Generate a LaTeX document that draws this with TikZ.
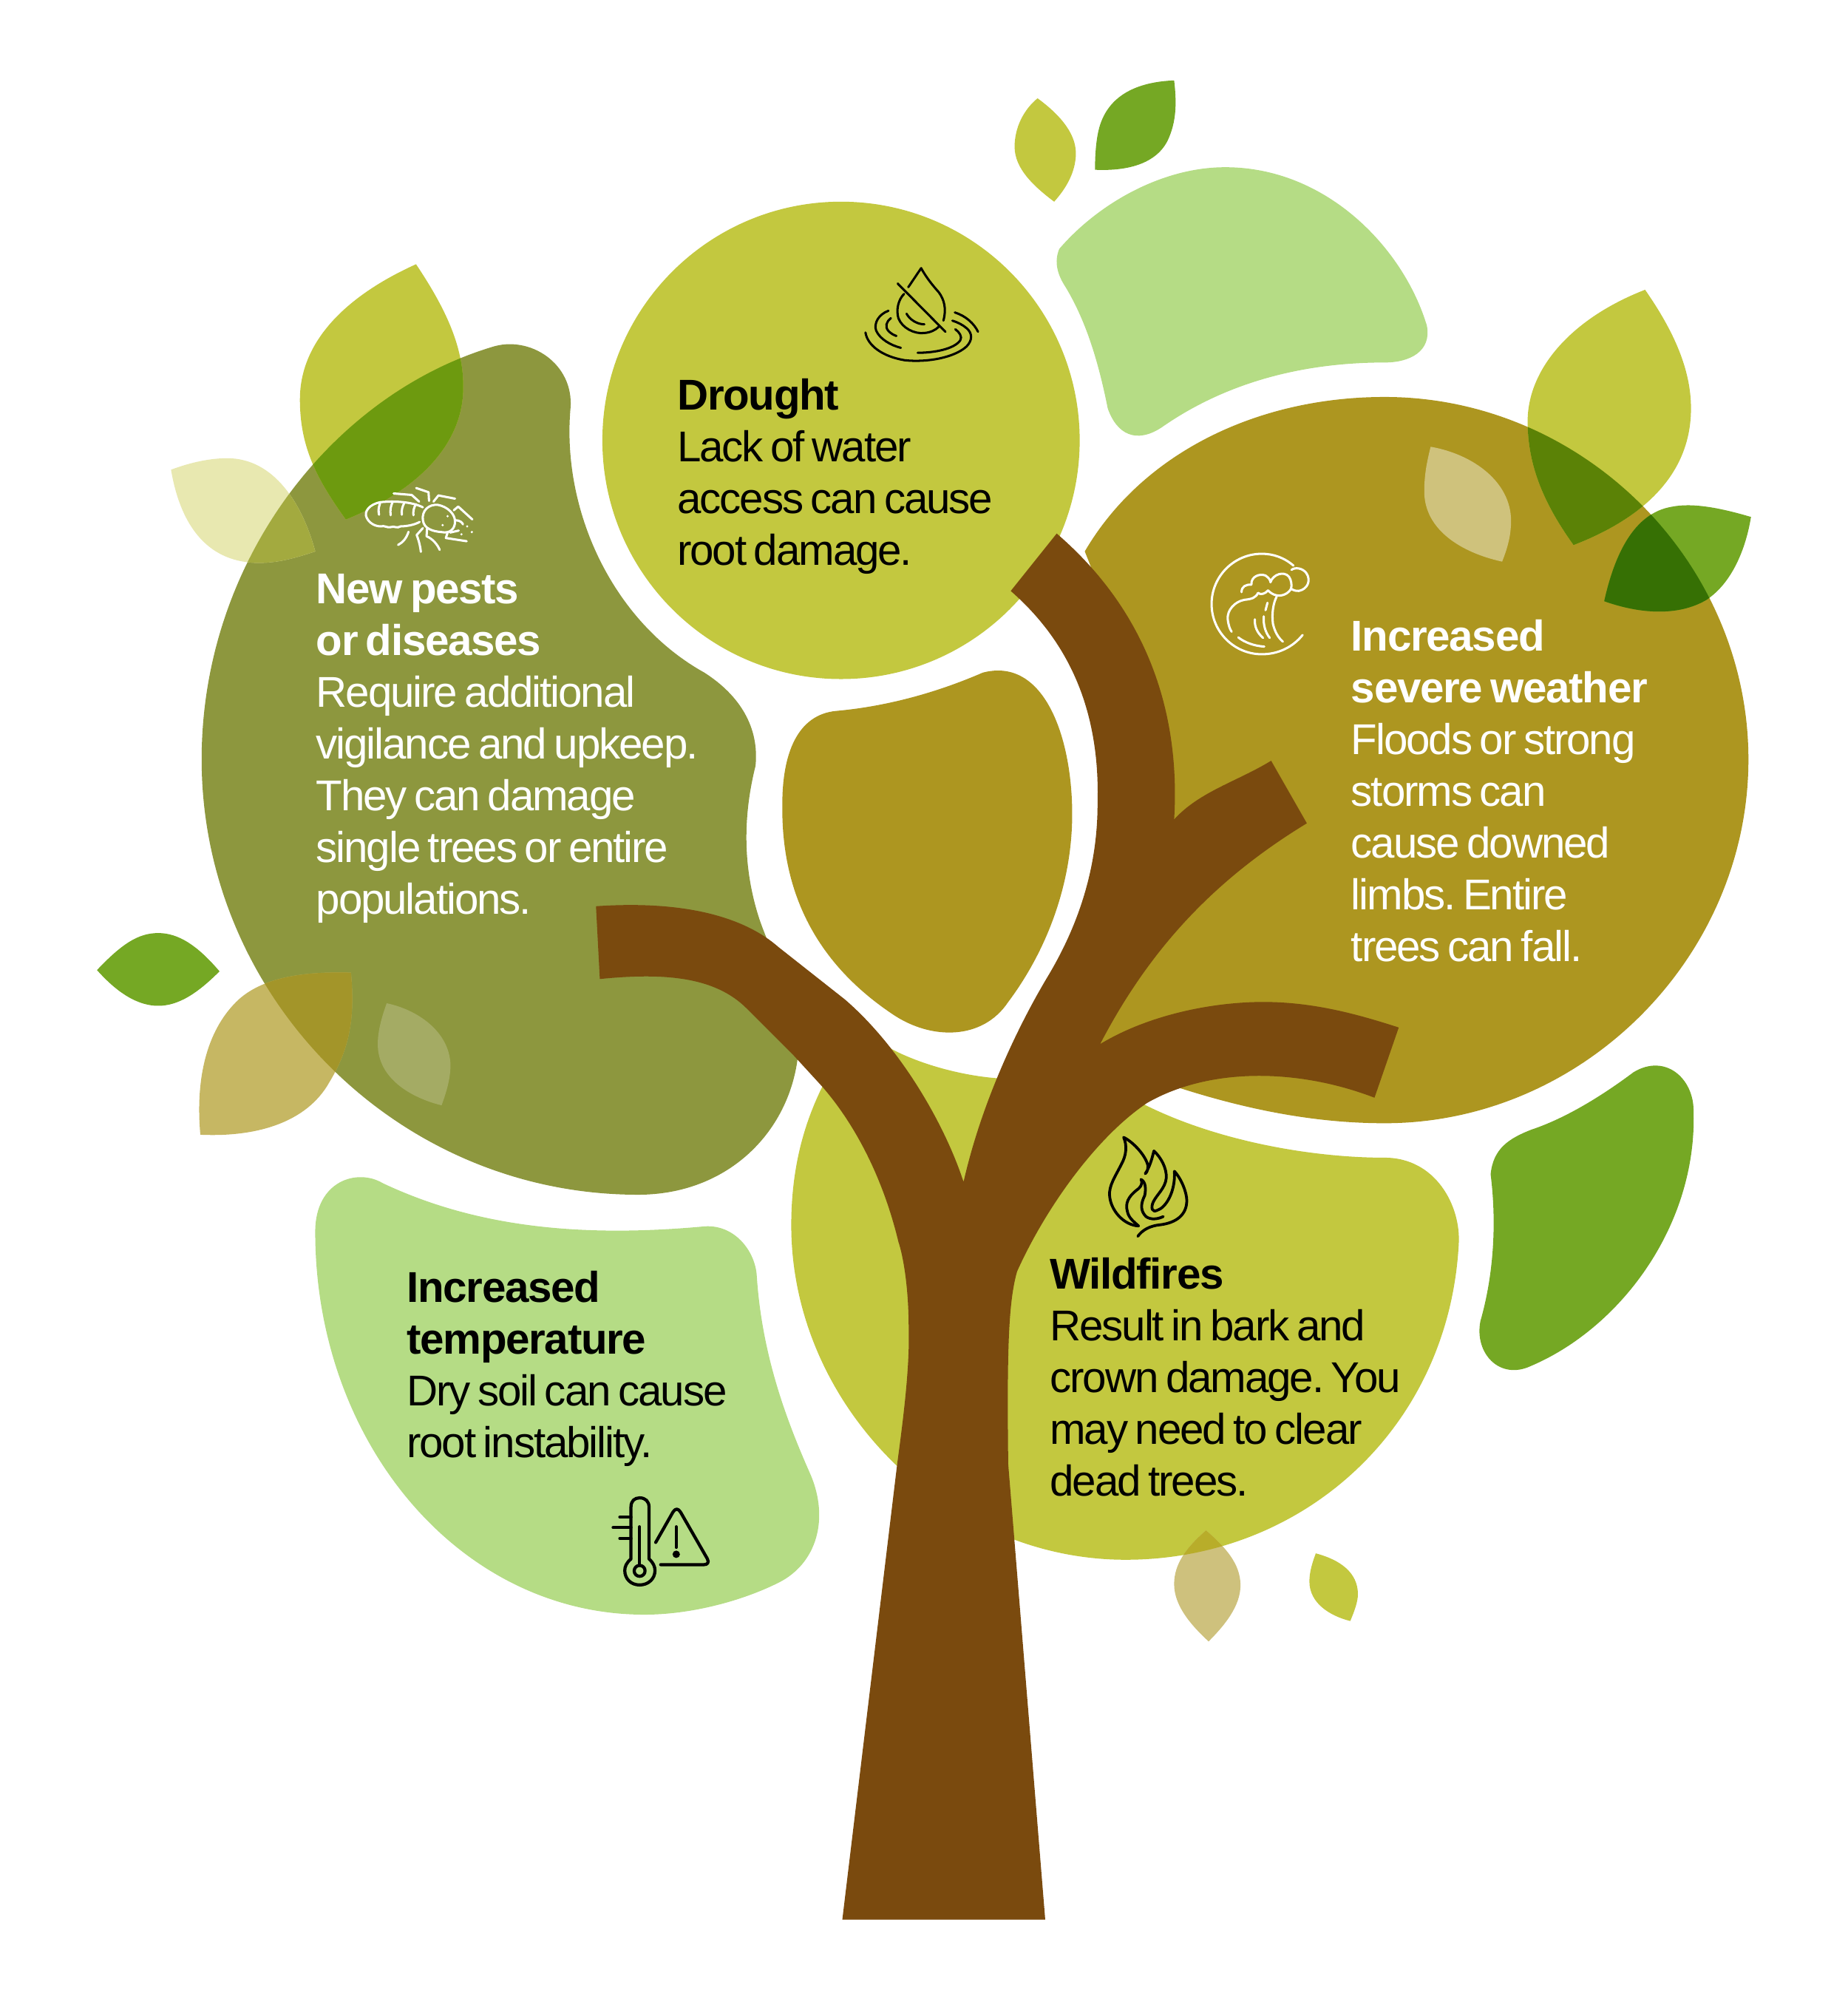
\documentclass[tikz,border=0pt]{standalone}
\usepackage{fontspec}
\setmainfont{Liberation Sans}[LetterSpace=-3.6,WordSpace=0.68,BoldFeatures={LetterSpace=-2.2}]
\usepackage{tikz}
\definecolor{limeleaf}{HTML}{C3C83F}
\definecolor{paleblob}{HTML}{B5DC85}
\definecolor{greenleaf}{HTML}{75A824}
\definecolor{ochreblob}{HTML}{AD9620}
\definecolor{pestblob}{HTML}{8D973E}
\definecolor{barkbrown}{HTML}{7A4A0E}
\def\blobPests{(385,272) .. controls (415,262) and (450,285) .. (447,320) .. controls (440,400) and (480,487) .. (552,527) .. controls (580,545) and (595,570) .. (592,600) .. controls (582,640) and (582,680) .. (595,720) .. controls (607,755) and (625,780) .. (626,815) .. controls (625,880) and (575,936) .. (500,936) .. controls (310,936) and (158,780) .. (158,595) .. controls (158,440) and (260,310) .. (385,272) -- cycle}
\def\blobOchre{(850,432) .. controls (895,355) and (985,311) .. (1085,311) .. controls (1240,311) and (1370,440) .. (1370,595) .. controls (1370,750) and (1240,880) .. (1085,880) .. controls (1010,880) and (935,860) .. (850,825) -- (860,730) -- (890,640) -- (885,520) -- cycle}
\def\blobLime{(620,960) .. controls (620,915) and (630,880) .. (645,850) -- (680,810) .. controls (705,830) and (750,843) .. (785,845) -- (870,850) .. controls (930,890) and (1020,907) .. (1085,907) .. controls (1125,907) and (1145,945) .. (1143,975) .. controls (1135,1120) and (1020,1222) .. (882,1222) .. controls (740,1222) and (620,1100) .. (620,960) -- cycle}
\def\leafTopLeft{(326,207) .. controls (275,230) and (235,265) .. (235,313) .. controls (235,350) and (248,375) .. (271,407) .. controls (325,385) and (363,350) .. (363,303) .. controls (363,270) and (348,240) .. (326,207) -- cycle}
\def\leafPale{(134,368) .. controls (150,362) and (165,359) .. (178,359) .. controls (215,359) and (237,395) .. (247,432) .. controls (232,437) and (218,441) .. (203,441) .. controls (165,441) and (142,415) .. (134,368) -- cycle}
\def\leafTan{(275,762) .. controls (240,761) and (205,765) .. (185,785) .. controls (162,808) and (153,845) .. (157,889) .. controls (200,891) and (240,880) .. (258,848) .. controls (275,820) and (278,795) .. (275,762) -- cycle}
\def\leafRightLime{(1289,227) .. controls (1230,250) and (1197,290) .. (1197,330) .. controls (1197,365) and (1210,395) .. (1233,427) .. controls (1290,405) and (1325,370) .. (1325,320) .. controls (1325,290) and (1312,260) .. (1289,227) -- cycle}
\def\leafRightGreen{(1372,405) .. controls (1345,397) and (1325,394) .. (1310,397) .. controls (1280,402) and (1265,435) .. (1257,471) .. controls (1285,481) and (1315,483) .. (1337,470) .. controls (1357,457) and (1368,430) .. (1372,405) -- cycle}
\def\leafLowTan{(945,1199) .. controls (930,1212) and (920,1225) .. (920,1241) .. controls (920,1258) and (933,1273) .. (947,1286) .. controls (960,1273) and (972,1258) .. (972,1242) .. controls (972,1225) and (960,1212) .. (945,1199) -- cycle}
\tikzset{
	blurb/.style={anchor=base west,align=left,inner sep=0pt,font=\fontsize{9.6}{11.53}\selectfont\frenchspacing},
	iconline/.style={line cap=round,line join=round,line width=#1},
	iconzoom/.style={x=0.0019307cm,y=-0.0019307cm}
}

\begin{document}
\begin{tikzpicture}[x=0.01cm,y=-0.01cm]
	\useasboundingbox (0,0) rectangle (1448,1568.5);
	%%%%% BLOBS %%%%%
	\fill[paleblob] (830,195) .. controls (860,160) and (910,131) .. (960,131) .. controls (1040,131) and (1100,195) .. (1118,255) .. controls (1122,275) and (1105,284) .. (1085,284) .. controls (1020,284) and (960,300) .. (910,335) .. controls (890,348) and (875,340) .. (868,320) .. controls (860,280) and (850,250) .. (835,225) .. controls (825,210) and (828,200) .. (830,195) -- cycle;
	\fill[paleblob] (247,965) .. controls (247,925) and (280,915) .. (300,927) .. controls (370,960) and (450,970) .. (550,961) .. controls (575,958) and (592,980) .. (593,1000) .. controls (597,1060) and (615,1110) .. (635,1155) .. controls (650,1190) and (640,1225) .. (610,1240) .. controls (580,1255) and (540,1265) .. (505,1265) .. controls (360,1265) and (247,1130) .. (247,965) -- cycle;
	\fill[greenleaf] (1168,920) .. controls (1170,900) and (1182,892) .. (1200,885) .. controls (1230,875) and (1260,855) .. (1280,840) .. controls (1305,825) and (1327,845) .. (1327,870) .. controls (1330,960) and (1270,1040) .. (1200,1070) .. controls (1175,1082) and (1155,1060) .. (1160,1035) .. controls (1170,1000) and (1173,960) .. (1168,920) -- cycle;
	\fill[limeleaf] (659,345) circle (187);
	\fill[limeleaf] \blobLime;
	\fill[ochreblob] \blobOchre;
	\fill[ochreblob] (655,557) .. controls (700,553) and (740,540) .. (770,527) .. controls (815,515) and (838,570) .. (840,630) .. controls (842,690) and (820,745) .. (790,785) .. controls (770,815) and (730,815) .. (700,795) .. controls (640,755) and (612,700) .. (613,630) .. controls (613,590) and (625,560) .. (655,557) -- cycle;
	\fill[pestblob] \blobPests;

	%%%%% LEAVES %%%%%
	\fill[limeleaf] \leafTopLeft;
	\begin{scope}
		\clip \blobPests;
		\fill[color={rgb,255:red,109;green,154;blue,15}] \leafTopLeft;
	\end{scope}
	\fill[color={rgb,255:red,232;green,232;blue,176}] \leafPale;
	\begin{scope}
		\clip \blobPests;
		\fill[color={rgb,255:red,163;green,170;blue,63}] \leafPale;
	\end{scope}
	\fill[color={rgb,255:red,198;green,183;blue,99}] \leafTan;
	\begin{scope}
		\clip \blobPests;
		\fill[color={rgb,255:red,163;green,149;blue,41}] \leafTan;
	\end{scope}
	\fill[color={rgb,255:red,164;green,171;blue,100}] (303,786) .. controls (327,791) and (352,808) .. (353,834) .. controls (353,845) and (350,855) .. (346,866) .. controls (322,860) and (296,845) .. (296,818) .. controls (296,808) and (299,797) .. (303,786) -- cycle;
	\fill[color={rgb,255:red,207;green,194;blue,124}] (1121,350) .. controls (1155,356) and (1184,378) .. (1184,408) .. controls (1184,420) and (1181,430) .. (1177,440) .. controls (1145,433) and (1116,415) .. (1116,385) .. controls (1116,372) and (1118,362) .. (1121,350) -- cycle;
	\fill[limeleaf] \leafRightLime;
	\fill[greenleaf] \leafRightGreen;
	\begin{scope}
		\clip \blobOchre;
		\fill[color={rgb,255:red,91;green,130;blue,6}] \leafRightLime;
		\fill[color={rgb,255:red,54;green,112;blue,4}] \leafRightGreen;
	\end{scope}
	\fill[greenleaf] (76,760) .. controls (95,740) and (108,731) .. (124,731) .. controls (140,731) and (155,741) .. (172,761) .. controls (155,778) and (140,788) .. (124,788) .. controls (108,788) and (92,778) .. (76,760) -- cycle;
	\fill[color={rgb,255:red,206;green,193;blue,125}] \leafLowTan;
	\begin{scope}
		\clip \blobLime;
		\fill[color={rgb,255:red,184;green,173;blue,42}] \leafLowTan;
	\end{scope}
	\fill[limeleaf] (1031,1217) .. controls (1050,1222) and (1064,1232) .. (1064,1249) .. controls (1064,1255) and (1061,1263) .. (1058,1270) .. controls (1042,1266) and (1026,1256) .. (1026,1239) .. controls (1026,1232) and (1028,1225) .. (1031,1217) -- cycle;
	\fill[limeleaf] (813,77) .. controls (802,86) and (795,100) .. (795,115) .. controls (795,132) and (810,146) .. (826,158) .. controls (835,148) and (843,135) .. (843,120) .. controls (843,103) and (828,88) .. (813,77) -- cycle;
	\fill[greenleaf] (920,63) .. controls (895,64) and (872,72) .. (863,95) .. controls (859,105) and (858,120) .. (858,133) .. controls (880,134) and (905,130) .. (915,110) .. controls (922,95) and (922,80) .. (920,63) -- cycle;

	%%%%% TREE %%%%%
	\fill[barkbrown] (660,1504) -- (703,1147) .. controls (708,1110) and (713,1070) .. (712,1040) .. controls (712,1010) and (708,985) .. (704,973) .. controls (690,915) and (665,875) .. (644,851) -- (622,827) -- (585,790) .. controls (560,765) and (520,762) .. (470,767) -- (467,710) .. controls (540,705) and (585,720) .. (610,742) -- (662,783) .. controls (705,820) and (740,880) .. (755,926) .. controls (770,860) and (800,800) .. (821,765) .. controls (845,725) and (860,680) .. (860,630) .. controls (862,560) and (840,505) .. (792,463) -- (828,418) .. controls (900,480) and (925,560) .. (920,642) .. controls (940,620) and (970,612) .. (996,596) -- (1024,645) .. controls (950,690) and (900,745) .. (862,818) .. controls (900,795) and (950,785) .. (990,785) .. controls (1030,785) and (1065,795) .. (1096,805) -- (1077,860) .. controls (1020,838) and (950,835) .. (899,864) .. controls (860,890) and (820,945) .. (797,996) .. controls (790,1020) and (789,1060) .. (790,1147) -- (819,1504) -- cycle;

	%%%%% TEXTS %%%%%
	\node[blurb] (droughtText) at (530,443) {\textbf{Drought}\\Lack of water\\access can cause\\root damage.};
	\node[blurb,text=white] (pestsText) at (247,716) {\textbf{New pests}\\\textbf{or diseases}\\Require additional\\vigilance and upkeep.\\They can damage\\single trees or entire\\populations.};
	\node[blurb,text=white] (weatherText) at (1058,753) {\textbf{Increased}\\\textbf{severe weather}\\Floods or strong\\storms can\\cause downed\\limbs. Entire\\trees can fall.};
	\node[blurb] (fireText) at (822,1172) {\textbf{Wildfires}\\Result in bark and\\crown damage. You\\may need to clear\\dead trees.};
	\node[blurb] (heatText) at (318,1142) {\textbf{Increased}\\\textbf{temperature}\\Dry soil can cause\\root instability.};

	%%%%% ICONS %%%%%
	\begin{scope}[shift={(654.5,196.9)},iconzoom,iconline=0.5pt]
		\draw (295,145) -- (347,68) .. controls (370,110) and (400,145) .. (418,165) .. controls (440,195) and (450,230) .. (437,280);
		\draw (278,172) .. controls (255,195) and (245,235) .. (255,270) .. controls (270,310) and (320,335) .. (360,330) .. controls (385,328) and (405,318) .. (418,305);
		\draw (252,130) -- (445,325);
		\draw (288,252) .. controls (300,275) and (330,295) .. (360,295);
		\draw (215,240) .. controls (175,255) and (155,290) .. (165,320) .. controls (180,355) and (225,380) .. (265,390);
		\draw (225,270) .. controls (205,285) and (200,305) .. (215,322) .. controls (225,332) and (235,338) .. (247,342);
		\draw (122,328) .. controls (130,380) and (190,425) .. (280,440) .. controls (370,450) and (480,430) .. (530,385) .. controls (555,360) and (555,330) .. (530,310) .. controls (515,297) and (495,287) .. (473,280);
		\draw (483,247) .. controls (525,260) and (560,290) .. (577,325);
		\draw (333,410) .. controls (400,410) and (480,395) .. (505,360) .. controls (515,345) and (500,325) .. (485,315);
	\end{scope}
	\begin{scope}[shift={(272.2,370.7)},iconzoom,iconline=0.5pt,white]
		\draw (305,138) .. controls (260,115) and (190,112) .. (135,117) .. controls (90,125) and (65,155) .. (78,180) .. controls (90,205) and (115,215) .. (135,215) .. controls (150,210) and (160,222) .. (175,218) .. controls (190,212) and (200,225) .. (215,215) .. controls (235,215) and (270,210) .. (292,197);
		\draw (132,122) .. controls (125,140) and (125,155) .. (128,168);
		\draw (182,118) .. controls (175,135) and (172,150) .. (175,170);
		\draw (230,120) .. controls (222,135) and (218,150) .. (220,168);
		\draw (277,125) .. controls (268,140) and (265,155) .. (267,170);
		\draw (305,190) .. controls (300,150) and (330,125) .. (365,128) .. controls (405,135) and (435,165) .. (435,195) .. controls (435,225) and (415,245) .. (380,238) .. controls (345,235) and (310,225) .. (305,190) -- cycle;
		\foreach \dotx/\doty in {405/174,385/210,484/215,503/238,461/247}
			\fill (\dotx,\doty) circle [radius=5];
		\draw (187,82) -- (260,88) -- (290,115);
		\draw (278,60) -- (328,77) -- (330,112);
		\draw (348,115) -- (368,90) -- (435,103);
		\draw (430,150) -- (448,135) -- (505,187);
		\draw (435,190) .. controls (455,190) and (465,200) .. (467,207);
		\draw (415,240) -- (450,232);
		\draw (405,240) -- (398,262) -- (482,275);
		\draw (247,237) .. controls (240,260) and (225,280) .. (205,290);
		\draw (305,222) -- (280,250) .. controls (290,275) and (295,300) .. (297,318);
		\draw (322,225) -- (320,255) .. controls (345,265) and (365,290) .. (373,310);
	\end{scope}
	\begin{scope}[shift={(938.3,422.8)},iconzoom,iconline=0.5pt,white]
		\draw (425,385) .. controls (385,435) and (325,463) .. (260,463) .. controls (148,463) and (57,372) .. (57,260) .. controls (57,148) and (148,57) .. (260,57) .. controls (305,57) and (350,72) .. (388,105);
		\draw (380,122) .. controls (395,110) and (425,115) .. (440,135) .. controls (460,165) and (445,200) .. (410,207) .. controls (395,208) and (385,203) .. (378,198);
		\draw (178,212) .. controls (178,190) and (195,180) .. (218,182) .. controls (215,150) and (250,135) .. (275,145) .. controls (290,155) and (295,165) .. (295,172) .. controls (305,140) and (350,125) .. (370,150) .. controls (380,165) and (382,185) .. (378,198) .. controls (370,215) and (345,230) .. (320,225) .. controls (305,222) and (295,215) .. (285,205) .. controls (275,218) and (255,225) .. (245,215) .. controls (235,235) and (220,240) .. (190,243) .. controls (150,250) and (120,285) .. (122,320) .. controls (125,345) and (130,360) .. (138,372);
		\draw (320,230) .. controls (305,260) and (300,300) .. (305,340) .. controls (312,370) and (325,395) .. (345,412);
		\draw (283,255) -- (275,285);
		\draw (268,310) .. controls (265,345) and (275,375) .. (292,397);
		\draw (232,322) .. controls (230,350) and (240,375) .. (265,397);
		\draw (165,395) .. controls (190,415) and (230,430) .. (270,432);
	\end{scope}
	\begin{scope}[shift={(851.4,880.4)},iconzoom,iconline=0.62pt]
		\draw (150,55) .. controls (165,90) and (160,130) .. (140,165) .. controls (115,215) and (90,250) .. (93,290) .. controls (97,350) and (150,410) .. (210,413);
		\draw (150,55) .. controls (190,75) and (240,130) .. (248,170) .. controls (248,185) and (245,195) .. (237,202) .. controls (255,175) and (265,140) .. (272,110) .. controls (300,135) and (325,180) .. (322,220) .. controls (318,260) and (285,285) .. (270,315) .. controls (258,340) and (265,360) .. (285,350) .. controls (320,340) and (360,275) .. (355,192) .. controls (385,225) and (405,280) .. (405,310) .. controls (405,370) and (360,400) .. (300,408) .. controls (255,412) and (225,430) .. (207,455);
		\draw (220,225) .. controls (240,235) and (240,265) .. (235,290) .. controls (220,320) and (215,350) .. (240,375) .. controls (260,390) and (290,385) .. (310,375);
		\draw (220,225) .. controls (230,245) and (215,260) .. (200,270) .. controls (170,295) and (155,320) .. (165,355) .. controls (170,380) and (190,395) .. (210,413);
	\end{scope}
	\begin{scope}[shift={(469.2,1164.2)},iconzoom,iconline=0.7pt]
		\draw (130,295) -- (130,85) .. controls (130,60) and (145,48) .. (165,48) .. controls (188,48) and (203,62) .. (203,85) -- (203,295) .. controls (220,310) and (227,325) .. (227,342) .. controls (227,375) and (200,400) .. (165,400) .. controls (130,400) and (105,375) .. (105,342) .. controls (105,325) and (112,310) .. (130,295) -- cycle;
		\draw (165,343) circle [radius=22];
		\draw (165,165) -- (165,320);
		\draw (85,126) -- (130,126);
		\draw (58,168) -- (130,168);
		\draw (85,212) -- (130,212);
		\draw (230,228) -- (300,105) .. controls (310,90) and (320,90) .. (330,105) -- (438,293) .. controls (448,310) and (438,318) .. (425,318) -- (250,318);
		\draw (313,165) -- (313,248);
		\fill (313,276) circle [radius=15];
	\end{scope}
\end{tikzpicture}
\end{document}
